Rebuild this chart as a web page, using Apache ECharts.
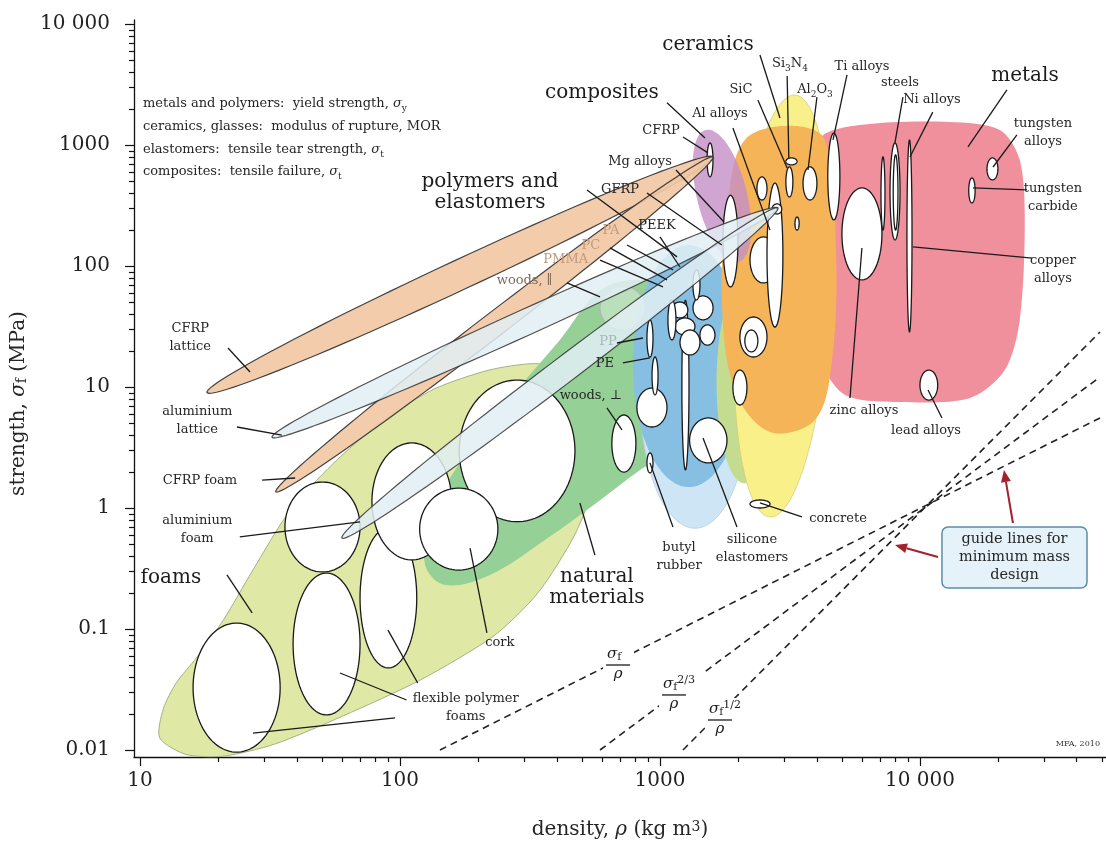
<!DOCTYPE html>
<html>
<head>
<meta charset="utf-8">
<title>Strength – density chart</title>
<script src="https://cdn.jsdelivr.net/npm/echarts@6/dist/echarts.min.js"></script>
<style>
html, body { margin: 0; padding: 0; background: #ffffff; }
#chart { width: 1106px; height: 846px; }
</style>
</head>
<body>
<div id="chart"></div>
<script>
// ===================== DATA =====================
// axes
const densityExtent = [9.483, 51943];
const strengthExtent = [0.008753, 10790];
const xMajorTicks = [10, 100, 1000, 10000];
const xTickLabels = ['10', '100', '1000', '10 000'];
const xMinorTicks = [20, 30, 40, 50, 60, 70, 80, 90, 200, 300, 400, 500, 600, 700, 800, 900,
  2000, 3000, 4000, 5000, 6000, 7000, 8000, 9000, 20000, 30000, 40000, 50000];
const yMajorTicks = [0.01, 0.1, 1, 10, 100, 1000, 10000];
const yTickLabels = ['0.01', '0.1', '1', '10', '100', '1000', '10 000'];
const yMinorTicks = [0.02, 0.03, 0.04, 0.05, 0.06, 0.07, 0.08, 0.09, 0.2, 0.3, 0.4, 0.5, 0.6, 0.7, 0.8, 0.9,
  2, 3, 4, 5, 6, 7, 8, 9, 20, 30, 40, 50, 60, 70, 80, 90, 200, 300, 400, 500, 600, 700, 800, 900,
  2000, 3000, 4000, 5000, 6000, 7000, 8000, 9000];

// material-family envelopes: outline points [density, strength]
const foamsEnvelope = [[11.9, 0.0126], [12.3, 0.022], [13.8, 0.036], [16.5, 0.058], [21, 0.12], [27, 0.3],
  [37.7, 0.95], [55, 2.3], [85, 5.2], [135, 9.6], [220, 13.8], [330, 15.6], [480, 13.6], [600, 8.5],
  [625, 4.6], [580, 1.9], [470, 0.6], [340, 0.2], [230, 0.088], [120, 0.038], [60, 0.019], [33, 0.0112],
  [21, 0.0089], [15, 0.0092]];
const naturalEnvelope = [[125, 0.338], [130, 0.80], [163, 2.06], [242, 6.46], [412, 24.5], [588, 63], [838, 77],
  [1194, 63], [1425, 29.6], [1363, 7.8], [1093, 3.0], [838, 2.06], [588, 1.16], [361, 0.544], [222, 0.28], [149, 0.231]];
const metalsEnvelope = [[4120, 1100], [5880, 1460], [13000, 1550], [20300, 1330], [24200, 752], [25300, 240],
  [24200, 35.8], [21200, 13.8], [15600, 8.12], [8380, 7.52], [5150, 8.6], [4200, 16.7], [4050, 136]];
const technicalCeramicsEnvelope = [[2120, 1100], [3160, 1440], [4310, 1100], [4750, 136], [4590, 16.7],
  [3950, 5.35], [2650, 4.25], [1940, 9.46], [1730, 52.4], [1830, 351]];
// envelopes given as ranges [density min, density max, strength min, strength max]
const polymersRange = [787, 2120, 1.49, 149];
const elastomersRange = [838, 2220, 0.68, 110];
const glassesRange = [1650, 2700, 1.6, 75];
// elongated envelopes given by the two ends of their long axis
const ceramicsAxis = [[3305, 2590], [2649, 0.843]];
const compositesAxis = [[1500, 1330], [2000, 108]];
const cfrpLatticeAxis = [[18.1, 9.0], [1600, 797]];
const cfrpFoamAxis = [[33.3, 1.36], [1600, 797]];
const aluminiumLatticeAxis = [[32.2, 3.84], [2840, 302]];
const aluminiumFoamAxis = [[59.8, 0.564], [2840, 302]];

// material bubbles [density min, density max, strength min, strength max]
const foamBubbles = [[16.0, 34.6, 0.0096, 0.112], [36.1, 70.2, 0.296, 1.64], [38.8, 70.2, 0.0195, 0.29],
  [70.2, 116, 0.0476, 0.685], [78, 158, 0.372, 3.45], [169, 471, 0.77, 11.4]];
const naturalBubbles = [[119, 238, 0.307, 1.46], [653, 808, 1.98, 5.87]];
const fadedBubbles = [[588, 876, 29.6, 68.5]];
const polymerBubbles = [[815, 1064, 4.67, 9.8], [1300, 1810, 2.36, 5.55], [891, 940, 1.95, 2.85],
  [1214, 1293, 2.06, 52], [1340, 1600, 35.9, 56.6], [1110, 1280, 37.2, 50.4], [1142, 1363, 26.9, 37.2],
  [1073, 1152, 24.5, 52.4], [1194, 1425, 18.4, 29.6], [1425, 1627, 22.2, 32.6], [1339, 1425, 52.4, 92.8],
  [891, 940, 17.7, 35.9], [932, 983, 8.6, 17.7]];
const ceramicBubbles = [[2030, 2580, 17.7, 37.9], [2120, 2380, 19.5, 29.6], [1908, 2160, 7.1, 13.8],
  [2220, 2815, 72.4, 174], [2360, 2580, 351, 545], [3050, 3365, 685, 782], [3050, 3245, 372, 660],
  [3550, 4015, 351, 660], [3305, 3430, 198, 254], [2220, 2650, 1.0, 1.165]];
const metalBubbles = [[1747, 1995, 67.1, 383], [2580, 2970, 31.3, 485], [4420, 4920, 240, 1256],
  [5010, 7140, 76.7, 442], [7670, 8380, 164, 1040], [7890, 8230, 198, 829], [7080, 7335, 198, 797],
  [8910, 9320, 28.5, 1100], [18100, 19950, 515, 782], [15400, 16300, 332, 534], [10000, 11700, 7.8, 13.8],
  [2700, 2940, 269, 326]];
const compositeBubbles = [[1517, 1599, 545, 1040]];

// leader lines [[density, strength], [density, strength]]
const leaderLines = [
  [[21.8, 21], [26.5, 13.3]], [[23.6, 4.67], [35.1, 4.01]], [[29.5, 1.70], [39.5, 1.77]],
  [[24.2, 0.577], [70.2, 0.767]], [[21.6, 0.28], [27, 0.136]], [[186, 0.467], [216, 0.0928]],
  [[89.9, 0.098], [117, 0.0358]], [[58.8, 0.0433], [106, 0.0259]], [[27.2, 0.0138], [95.7, 0.0184]],
  [[492, 1.10], [562, 0.409]], [[625, 6.71], [714, 4.42]], [[915, 2.36], [1122, 0.697]],
  [[1464, 3.79], [1978, 0.697]], [[2424, 1.10], [3515, 0.843]], [[5980, 141], [5380, 8.12]],
  [[10740, 9.46], [12150, 5.55]], [[9400, 144], [27000, 116]], [[16000, 442], [25800, 425]],
  [[19100, 658], [23600, 1210]], [[15300, 963], [21600, 2850]], [[9150, 797], [11200, 1870]],
  [[8010, 1040], [8600, 2490]], [[4630, 1100], [5240, 3790]], [[3710, 621], [4015, 2490]],
  [[3130, 782], [3084, 3720]], [[3084, 646], [2380, 2355]], [[2894, 1673], [2424, 5545]],
  [[2649, 198], [1908, 1380]], [[1530, 860], [1226, 1165]], [[1490, 1142], [1064, 2230]],
  [[1152, 622], [1763, 231]], [[891, 401], [1730, 149]], [[1000, 174], [1194, 98.1]],
  [[747, 149], [1122, 92.8]], [[642, 141], [1064, 76.7]], [[588, 112], [1027, 67.1]],
  [[439, 72.4], [588, 55.5]], [[524, 425], [1163, 119]], [[683, 23.1], [860, 25.4]],
  [[720, 15.8], [915, 17.4]]
];

// guide lines for minimum mass design (end points)
const guideStrengthPerDensity = [[142.5, 0.01], [49240, 5.55]];
const guideStrength23PerDensity = [[588, 0.01], [49240, 12.1]];
const guideStrength12PerDensity = [[1226, 0.01], [49240, 28.5]];
const guideLabelAnchors = [[690, 0.0504], [1132, 0.0285], [1701, 0.0177]];
const guideLabelExponents = ['', '2/3', '1/2'];
const guideNoteBox = [[12150, 0.218], [43900, 0.697]];
const guideNoteText = 'guide lines for\nminimum mass\ndesign';
const guideNoteArrows = [[[11730, 0.394], [8014, 0.494]], [[22780, 0.752], [21040, 2.06]]];

// text labels [text, [density, strength]]
const regionLabels = [
  ['ceramics', [1530, 6710]], ['composites', [598, 2690]], ['polymers and\nelastomers', [222, 410]],
  ['metals', [25340, 3720]], ['foams', [13.15, 0.264]], ['natural\nmaterials', [572, 0.222]]
];
const materialLabels = [
  ['CFRP', [1009, 1306]], ['Mg alloys', [838, 724]], ['GFRP', [702, 425]], ['PEEK', [974, 214]],
  ['PE', [614, 15.5]], ['woods, ⊥', [542, 8.43]], ['SiC', [2048, 2850]], ['Al alloys', [1701, 1800]],
  ['Si{sub|3}N{sub|4}', [3162, 4670]], ['Al{sub|2}O{sub|3}', [3946, 2850]], ['Ti alloys', [5980, 4420]],
  ['steels', [8377, 3260]], ['Ni alloys', [11120, 2355]], ['tungsten\nalloys', [29720, 1256]],
  ['tungsten\ncarbide', [32450, 365]], ['copper\nalloys', [32450, 92.8]], ['zinc alloys', [6090, 6.33]],
  ['lead alloys', [10550, 4.33]], ['concrete', [4840, 0.82]], ['butyl\nrubber', [1184, 0.394]],
  ['silicone\nelastomers', [2258, 0.459]], ['cork', [242, 0.0767]],
  ['flexible polymer\nfoams', [179, 0.0223]], ['CFRP\nlattice', [15.6, 25.4]],
  ['aluminium\nlattice', [16.6, 5.24]], ['CFRP foam', [17.0, 1.67]], ['aluminium\nfoam', [16.6, 0.66]]
];
const fadedLabels = [['PA', [648, 195]], ['PC', [542, 146]], ['PMMA', [434, 112]],
  ['woods, ∥', [302, 75.2]], ['PP', [631, 23.5]]];
const propertyNotes = [
  'metals and polymers:  yield strength, {i|σ}{sub|y}',
  'ceramics, glasses:  modulus of rupture, MOR',
  'elastomers:  tensile tear strength, {i|σ}{sub|t}',
  'composites:  tensile failure, {i|σ}{sub|t}'
];
const propertyNoteAnchors = [[10.27, 2180], [10.27, 1410], [10.27, 910], [10.27, 598]];
const creditText = 'MFA, 2010';
const creditAnchor = [49240, 0.0112];

// ===================== STYLES =====================
const FONT = '"DejaVu Serif", "Liberation Serif", serif';
const INK = '#1c1c1c';
const fadedColors = ['#c29a7c', '#c29a7c', '#c29a7c', '#7d6a5c', '#aab6bf'];
const bandHalfWidth = { ceramics: 47, composites: 25, cfrpLattice: 15, cfrpFoam: 12, alLattice: 13, alFoam: 13 };

// ===================== helpers =====================
const L10 = Math.log10;
function ellipsePts(api, r, n) {
  n = n || 90;
  const x1 = L10(r[0]), x2 = L10(r[1]), y1 = L10(r[2]), y2 = L10(r[3]);
  const cx = (x1 + x2) / 2, ax = (x2 - x1) / 2, cy = (y1 + y2) / 2, ay = (y2 - y1) / 2;
  const pts = [];
  for (let k = 0; k < n; k++) {
    const t = 2 * Math.PI * k / n;
    pts.push(api.coord([Math.pow(10, cx + ax * Math.cos(t)), Math.pow(10, cy + ay * Math.sin(t))]));
  }
  return pts;
}
function bandPts(api, seg, hw, n) {
  n = n || 100;
  const a = api.coord(seg[0]), b = api.coord(seg[1]);
  const cx = (a[0] + b[0]) / 2, cy = (a[1] + b[1]) / 2;
  const L = Math.hypot(b[0] - a[0], b[1] - a[1]) / 2;
  const ang = Math.atan2(b[1] - a[1], b[0] - a[0]);
  const c = Math.cos(ang), s = Math.sin(ang);
  const pts = [];
  for (let k = 0; k < n; k++) {
    const t = 2 * Math.PI * k / n;
    const u = L * Math.cos(t), v = hw * Math.sin(t);
    pts.push([cx + u * c - v * s, cy + u * s + v * c]);
  }
  return pts;
}
function polyEl(points, style, smooth) {
  return { type: 'polygon', shape: { points: points, smooth: smooth || 0 }, style: style };
}
function richFor(size, color) {
  return {
    i: { fontFamily: FONT, fontSize: size, fontStyle: 'italic', fill: color },
    sub: { fontFamily: FONT, fontSize: Math.round(size * 0.72), verticalAlign: 'bottom', lineHeight: Math.round(size * 0.8), fill: color },
    sup: { fontFamily: FONT, fontSize: Math.round(size * 0.72), verticalAlign: 'top', lineHeight: Math.round(size * 0.8), fill: color }
  };
}
function textEl(api, at, text, size, color, align, lineHeight) {
  const p = api.coord(at);
  return {
    type: 'text', x: p[0], y: p[1],
    style: {
      text: text, fontFamily: FONT, fontSize: size, fill: color || INK,
      align: align || 'center', verticalAlign: 'middle',
      lineHeight: lineHeight || Math.round(size * 1.35),
      rich: richFor(size, color || INK)
    }
  };
}
function layer(build, z) {
  return {
    type: 'custom', coordinateSystem: 'cartesian2d', silent: true, clip: false, z: z || 2,
    data: [[100, 1]],
    renderItem: function (params, api) { return { type: 'group', children: build(api) }; }
  };
}
function tickLabel(ticks, labels) {
  return function (v) {
    for (let i = 0; i < ticks.length; i++) {
      if (Math.abs(L10(v) - L10(ticks[i])) < 1e-6) return labels[i];
    }
    return '';
  };
}

// ===================== layers =====================
const envelopeLayer = layer(function (api) {
  const P = pts => pts.map(d => api.coord(d));
  return [
    polyEl(P(foamsEnvelope), { fill: '#dfe8a4', stroke: '#a3b288', lineWidth: 1 }, 0.25),
    polyEl(P(naturalEnvelope), { fill: '#95d097', blend: 'multiply' }, 0.35),
    polyEl(ellipsePts(api, elastomersRange), { fill: '#cde5f4', stroke: '#b8cfdc', lineWidth: 0.8 }),
    polyEl(ellipsePts(api, polymersRange), { fill: '#86bfe2' }),
    polyEl(ellipsePts(api, glassesRange), { fill: '#c3dc8f' }),
    polyEl(P(metalsEnvelope), { fill: '#f0909c' }, 0.3),
    polyEl(bandPts(api, ceramicsAxis, bandHalfWidth.ceramics), { fill: '#faf08a', stroke: '#d8cd7a', lineWidth: 0.8 }),
    polyEl(P(technicalCeramicsEnvelope), { fill: '#f6b459' }, 0.35),
    polyEl(bandPts(api, compositesAxis, bandHalfWidth.composites), { fill: '#c48fc6', opacity: 0.8 })
  ];
}, 1);

function bubbleEls(api, list, style) {
  return list.map(r => polyEl(ellipsePts(api, r), style));
}
const bubbleStyle = { fill: '#ffffff', stroke: '#1a1a1a', lineWidth: 1.3 };
const bubbleLayer = layer(function (api) {
  return [].concat(
    bubbleEls(api, foamBubbles, bubbleStyle),
    bubbleEls(api, naturalBubbles, bubbleStyle),
    bubbleEls(api, fadedBubbles, { fill: 'rgba(255,255,255,0.35)', stroke: '#aeb6bb', lineWidth: 1.2 }),
    bubbleEls(api, polymerBubbles, bubbleStyle),
    bubbleEls(api, ceramicBubbles, bubbleStyle),
    bubbleEls(api, metalBubbles, bubbleStyle),
    bubbleEls(api, compositeBubbles, bubbleStyle)
  );
}, 3);

const bandLayer = layer(function (api) {
  const edge = { stroke: '#333333', lineWidth: 1.2 };
  return [
    polyEl(bandPts(api, cfrpLatticeAxis, bandHalfWidth.cfrpLattice), Object.assign({ fill: '#f1c8a4', opacity: 0.92 }, edge)),
    polyEl(bandPts(api, cfrpFoamAxis, bandHalfWidth.cfrpFoam), Object.assign({ fill: '#f1c8a4', opacity: 0.92 }, edge)),
    polyEl(bandPts(api, aluminiumLatticeAxis, bandHalfWidth.alLattice), Object.assign({ fill: '#e2eef5', opacity: 0.85 }, edge)),
    polyEl(bandPts(api, aluminiumFoamAxis, bandHalfWidth.alFoam), Object.assign({ fill: '#e2eef5', opacity: 0.85 }, edge))
  ];
}, 4);

const leaderLayer = layer(function (api) {
  return leaderLines.map(seg => {
    const a = api.coord(seg[0]), b = api.coord(seg[1]);
    return { type: 'line', shape: { x1: a[0], y1: a[1], x2: b[0], y2: b[1] }, style: { stroke: '#1a1a1a', lineWidth: 1.3 } };
  });
}, 5);

const labelLayer = layer(function (api) {
  const out = [];
  regionLabels.forEach(l => out.push(textEl(api, l[1], l[0], 20, INK, 'center', 21)));
  materialLabels.forEach(l => out.push(textEl(api, l[1], l[0], 13, '#262626', 'center', 18)));
  fadedLabels.forEach((l, i) => out.push(textEl(api, l[1], l[0], 13, fadedColors[i], 'center', 18)));
  propertyNotes.forEach((t, i) => out.push(textEl(api, propertyNoteAnchors[i], t, 13, '#262626', 'left', 18)));
  out.push(textEl(api, creditAnchor, creditText, 8, '#333333', 'right', 10));
  // guide line formula labels (the dashes are interrupted behind them)
  guideLabelAnchors.forEach((at, i) => {
    const p = api.coord(at);
    const extra = guideLabelExponents[i] ? 14 : 0;
    out.push({ type: 'rect', shape: { x: p[0] - 15, y: p[1] - 22, width: 31 + extra, height: 42 }, style: { fill: '#ffffff' } });
    const num = '{i|σ}{sub|f}' + (guideLabelExponents[i] ? '{sup|' + guideLabelExponents[i] + '}' : '');
    out.push({ type: 'text', x: p[0] - 11, y: p[1] - 2,
      style: { text: num, fontFamily: FONT, fontSize: 15, fill: INK, align: 'left', verticalAlign: 'bottom', lineHeight: 18, rich: richFor(15, INK) } });
    out.push({ type: 'line', shape: { x1: p[0] - 12, y1: p[1], x2: p[0] + 12, y2: p[1] }, style: { stroke: INK, lineWidth: 1.3 } });
    out.push({ type: 'text', x: p[0], y: p[1] + 2,
      style: { text: 'ρ', fontFamily: FONT, fontSize: 15, fontStyle: 'italic', fill: INK, align: 'center', verticalAlign: 'top' } });
  });
  // note box and arrows
  const b0 = api.coord(guideNoteBox[0]), b1 = api.coord(guideNoteBox[1]);
  out.push({ type: 'rect', shape: { x: b0[0], y: b1[1], width: b1[0] - b0[0], height: b0[1] - b1[1], r: 6 },
    style: { fill: '#e6f2f9', stroke: '#5b8ea8', lineWidth: 1.5 } });
  const c = api.coord([Math.sqrt(guideNoteBox[0][0] * guideNoteBox[1][0]), Math.sqrt(guideNoteBox[0][1] * guideNoteBox[1][1])]);
  out.push({ type: 'text', x: c[0], y: c[1],
    style: { text: guideNoteText, fontFamily: FONT, fontSize: 14.5, fill: '#262626', align: 'center', verticalAlign: 'middle', lineHeight: 18 } });
  guideNoteArrows.forEach(seg => {
    const a = api.coord(seg[0]), t = api.coord(seg[1]);
    const ang = Math.atan2(t[1] - a[1], t[0] - a[0]);
    const cs = Math.cos(ang), sn = Math.sin(ang);
    const base = [t[0] - 12 * cs, t[1] - 12 * sn];
    out.push({ type: 'line', shape: { x1: a[0], y1: a[1], x2: base[0], y2: base[1] }, style: { stroke: '#a3202c', lineWidth: 2 } });
    out.push({ type: 'polygon', shape: { points: [t, [base[0] - 5 * sn, base[1] + 5 * cs], [base[0] + 5 * sn, base[1] - 5 * cs]] },
      style: { fill: '#a3202c' } });
  });
  return out;
}, 6);

const tickLayer = layer(function (api) {
  const origin = api.coord([densityExtent[0], strengthExtent[0]]);
  const out = [];
  const st = { stroke: '#111111', lineWidth: 1.2 };
  xMajorTicks.forEach(v => { const x = Math.round(api.coord([v, strengthExtent[0]])[0]) + 0.5;
    out.push({ type: 'line', shape: { x1: x, y1: origin[1], x2: x, y2: origin[1] + 9 }, style: st }); });
  xMinorTicks.forEach(v => { const x = Math.round(api.coord([v, strengthExtent[0]])[0]) + 0.5;
    out.push({ type: 'line', shape: { x1: x, y1: origin[1], x2: x, y2: origin[1] + 5 }, style: st }); });
  yMajorTicks.forEach(v => { const y = Math.round(api.coord([densityExtent[0], v])[1]) + 0.5;
    out.push({ type: 'line', shape: { x1: origin[0] - 9, y1: y, x2: origin[0], y2: y }, style: st }); });
  yMinorTicks.forEach(v => { const y = Math.round(api.coord([densityExtent[0], v])[1]) + 0.5;
    out.push({ type: 'line', shape: { x1: origin[0] - 5, y1: y, x2: origin[0], y2: y }, style: st }); });
  return out;
}, 6);

function guideSeries(name, pts) {
  return { type: 'line', name: name, data: pts, symbol: 'none', silent: true, clip: false, z: 2,
    lineStyle: { color: '#222222', width: 1.6, type: [7, 5] } };
}

const chart = echarts.init(document.getElementById('chart'), null, { renderer: 'canvas' });
chart.setOption({
  animation: false,
  backgroundColor: '#ffffff',
  grid: { left: 134, right: 0, top: 20, bottom: 89, containLabel: false, outerBoundsMode: 'none' },
  xAxis: {
    type: 'log', logBase: 10, min: densityExtent[0], max: densityExtent[1], splitNumber: 4,
    axisLine: { show: true, onZero: false, lineStyle: { color: '#111111', width: 1.3 } },
    axisTick: { show: false }, minorTick: { show: false }, splitLine: { show: false },
    axisLabel: { formatter: tickLabel(xMajorTicks, xTickLabels), fontFamily: FONT, fontSize: 20, color: '#222222', margin: 14 },
    name: 'density, {i|ρ} (kg m{sup|3})', nameLocation: 'middle', nameGap: 63,
    nameTextStyle: { fontFamily: FONT, fontSize: 20, color: '#262626',
      rich: { i: { fontFamily: FONT, fontSize: 20, fontStyle: 'italic', color: '#262626' },
              sup: { fontFamily: FONT, fontSize: 14, verticalAlign: 'top', lineHeight: 14, color: '#262626' } } }
  },
  yAxis: {
    type: 'log', logBase: 10, min: strengthExtent[0], max: strengthExtent[1], splitNumber: 6,
    axisLine: { show: true, onZero: false, lineStyle: { color: '#111111', width: 1.3 } },
    axisTick: { show: false }, minorTick: { show: false }, splitLine: { show: false },
    axisLabel: { formatter: tickLabel(yMajorTicks, yTickLabels), fontFamily: FONT, fontSize: 20, color: '#222222', margin: 24 },
    name: 'strength, {i|σ}{sub|f} (MPa)', nameLocation: 'middle', nameGap: 100,
    nameTextStyle: { fontFamily: FONT, fontSize: 20, color: '#262626', padding: [0, 30, 0, 0],
      rich: { i: { fontFamily: FONT, fontSize: 20, fontStyle: 'italic', color: '#262626' },
              sub: { fontFamily: FONT, fontSize: 14, verticalAlign: 'bottom', lineHeight: 14, color: '#262626' } } }
  },
  series: [
    envelopeLayer,
    guideSeries('σf/ρ', guideStrengthPerDensity),
    guideSeries('σf^2/3/ρ', guideStrength23PerDensity),
    guideSeries('σf^1/2/ρ', guideStrength12PerDensity),
    bubbleLayer,
    bandLayer,
    leaderLayer,
    labelLayer,
    tickLayer
  ]
});
</script>
</body>
</html>
